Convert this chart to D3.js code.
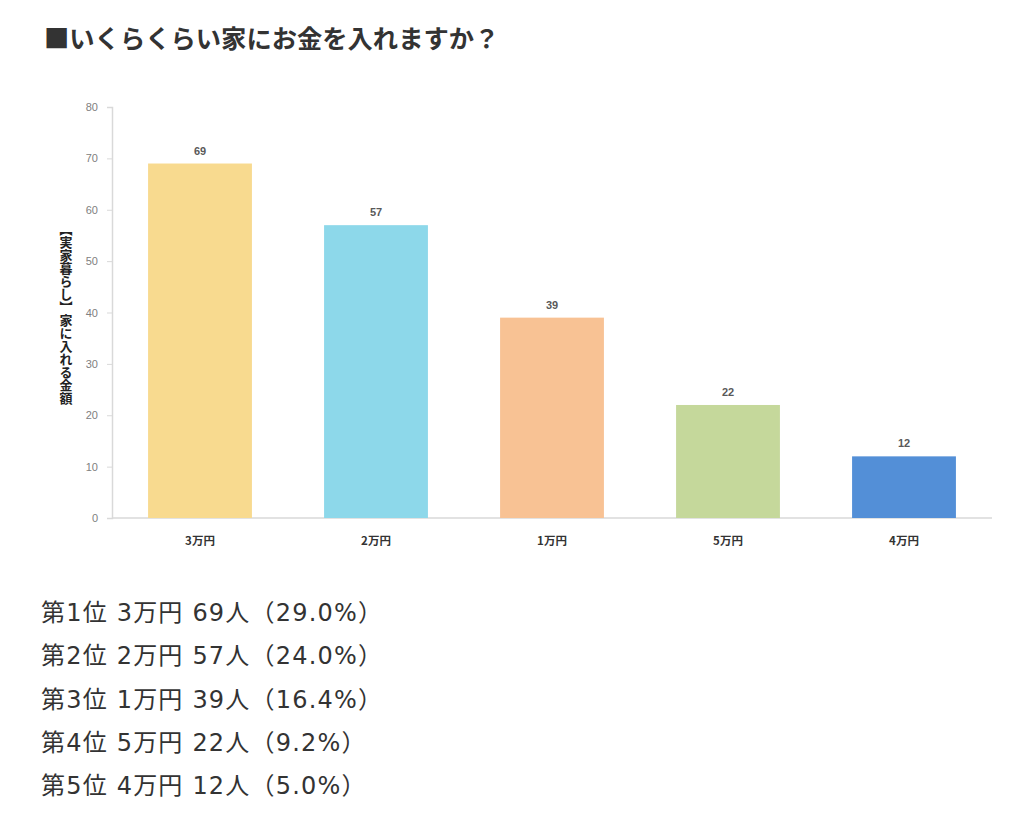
<!DOCTYPE html>
<html><head><meta charset="utf-8">
<script src="https://cdn.jsdelivr.net/npm/d3@7"></script>
<style>
body{margin:0;background:#fff;}
svg{display:block;}
</style></head>
<body>
<svg id="c" width="1024" height="824"></svg>
<script>
const categories = ["3万円","2万円","1万円","5万円","4万円"];
const values = [69,57,39,22,12];
const colors = ["#F8DA8F","#8DD8EA","#F8C294","#C5D89B","#538FD7"];
const yTicks = [0,10,20,30,40,50,60,70,80];
const ranks = ["第1位","第2位","第3位","第4位","第5位"];
const counts = [69,57,39,22,12];
const percents = ["29.0%","24.0%","16.4%","9.2%","5.0%"];
const title = "■いくらくらい家にお金を入れますか？";
const yTitle = "【実家暮らし】家に入れる金額";

const svg = d3.select("#c");
const font = "'Noto Sans CJK JP','Noto Sans',sans-serif";
const wideFont = "'DejaVu Sans','Noto Sans CJK JP',sans-serif";

svg.append("text").attr("x",44).attr("y",48)
  .attr("font-family",font).attr("font-weight","bold").attr("font-size",25.3)
  .attr("fill","#333").text(title);

const x = d3.scaleBand().domain(categories).range([112,992]).paddingInner(0.41).paddingOuter(0.205);
const y = d3.scaleLinear().domain([0,80]).range([518,107]);

const gy = svg.append("g").attr("transform","translate(112,0)")
  .call(d3.axisLeft(y).tickValues(yTicks).tickSize(5).tickPadding(9));
gy.select(".domain").attr("stroke","#d9d9d9").attr("stroke-width",1.5);
gy.selectAll(".tick line").attr("stroke","#d9d9d9");
gy.selectAll(".tick text").attr("font-family","'Liberation Sans',Arial,sans-serif").attr("font-size",11).attr("fill","#808080");

const gx = svg.append("g").attr("transform","translate(0,518)")
  .call(d3.axisBottom(x).tickSize(0).tickPadding(19));
gx.select(".domain").attr("stroke","#d9d9d9").attr("stroke-width",1.5).attr("d","M112,0H992");
gx.selectAll(".tick text").attr("font-family",font).attr("font-size",11.5).attr("font-weight","bold").attr("fill","#333");

svg.append("g").selectAll("rect").data(values).join("rect")
  .attr("x",(d,i)=>x(categories[i])).attr("width",x.bandwidth())
  .attr("y",d=>y(d)).attr("height",d=>y(0)-y(d))
  .attr("fill",(d,i)=>colors[i]);

svg.append("g").selectAll("text").data(values).join("text")
  .attr("x",(d,i)=>x(categories[i])+x.bandwidth()/2).attr("y",d=>y(d)-9)
  .attr("text-anchor","middle").attr("font-family","'Liberation Sans',Arial,sans-serif")
  .attr("font-size",11).attr("font-weight","bold").attr("fill","#595959").text(d=>d);

svg.append("text").attr("x",66).attr("y",314)
  .attr("font-family",font).attr("font-size",13).attr("font-weight","bold").attr("fill","#222")
  .attr("text-anchor","middle")
  .style("writing-mode","vertical-rl").style("text-orientation","upright")
  .text(yTitle);

svg.append("g").selectAll("text").data(ranks).join("text")
  .attr("x",41).attr("y",(d,i)=>621+i*43.3)
  .attr("font-family",wideFont).attr("font-size",24).attr("fill","#333")
  .attr("letter-spacing",1.2)
  .text((d,i)=>`${d} ${categories[i]} ${counts[i]}人（${percents[i]}）`);
</script>
</body></html>
